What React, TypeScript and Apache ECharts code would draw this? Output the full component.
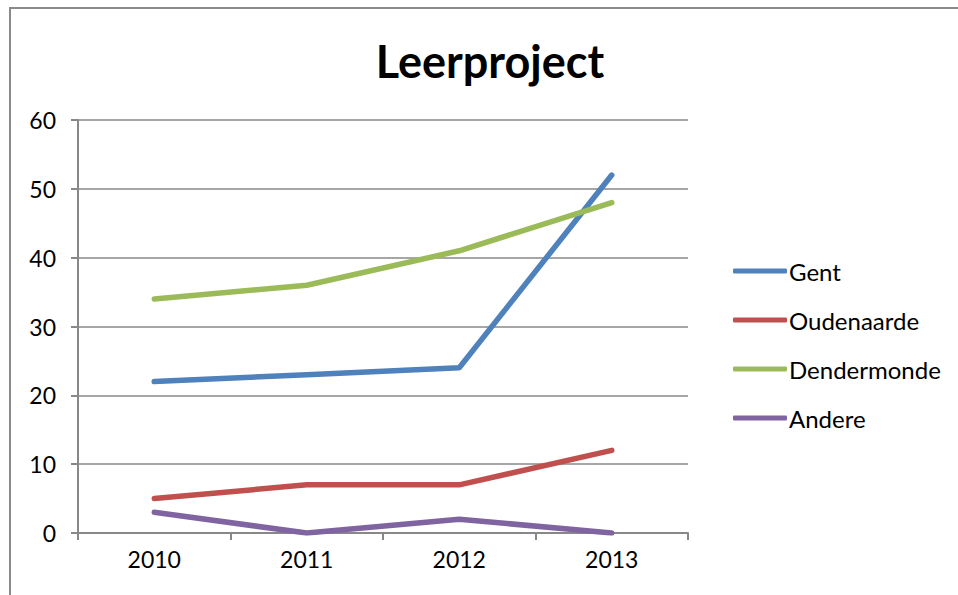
import React, { useEffect, useRef } from "react";
import * as echarts from "echarts";

const categories = ["2010", "2011", "2012", "2013"];
const gent = [22, 23, 24, 52];
const oudenaarde = [5, 7, 7, 12];
const dendermonde = [34, 36, 41, 48];
const andere = [3, 0, 2, 0];
const seriesNames = ["Gent", "Oudenaarde", "Dendermonde", "Andere"];
const colors = ["#4F81BD", "#C0504D", "#9BBB59", "#8064A2"];

export default function App() {
  const ref = useRef<HTMLDivElement>(null);
  useEffect(() => {
    document.body.style.margin = "0";
    const chart = echarts.init(ref.current!, null, { renderer: "svg" });
    const font = "Lato";
    const data = [gent, oudenaarde, dendermonde, andere];
    chart.setOption({
      animation: false,
      backgroundColor: "#ffffff",
      title: {
        text: "Leerproject",
        left: 485,
        top: 33,
        textAlign: "center",
        textStyle: { fontFamily: font, fontSize: 45, fontWeight: "bold", color: "#000" },
      },
      graphic: [
        {
          type: "rect",
          shape: { x: 10, y: 8, width: 1200, height: 1200 },
          style: { fill: "none", stroke: "#8a8a8a", lineWidth: 2 },
          silent: true,
        },
      ],
      legend: {
        orient: "vertical",
        left: 728,
        top: 254,
        itemWidth: 54,
        itemHeight: 5,
        itemGap: 25,
        icon: "roundRect",
        textStyle: { fontFamily: font, fontSize: 24, color: "#000", padding: [0, 0, 0, -3] },
        data: seriesNames,
      },
      grid: { left: 78, right: 270, top: 120, bottom: 62 },
      xAxis: {
        type: "category",
        data: categories,
        boundaryGap: true,
        axisLine: { show: true, lineStyle: { color: "#888", width: 2 } },
        axisTick: { show: true, length: 7, interval: 0, lineStyle: { color: "#888", width: 2 } },
        axisLabel: { fontFamily: font, fontSize: 23, color: "#000", margin: 14 },
      },
      yAxis: {
        type: "value",
        min: 0,
        max: 60,
        interval: 10,
        axisLine: { show: true, lineStyle: { color: "#888", width: 2 } },
        axisTick: { show: true, length: 7, lineStyle: { color: "#888", width: 2 } },
        axisLabel: { fontFamily: font, fontSize: 23, color: "#000", margin: 22 },
        splitLine: { show: true, lineStyle: { color: "#888", width: 1.5 } },
      },
      series: seriesNames.map((name, i) => ({
        name,
        type: "line",
        data: data[i],
        symbol: "none",
        color: colors[i],
        lineStyle: { width: 5.5, color: colors[i], cap: "round" },
      })),
    });
    return () => chart.dispose();
  }, []);
  return <div ref={ref} style={{ width: 958, height: 595 }} />;
}
